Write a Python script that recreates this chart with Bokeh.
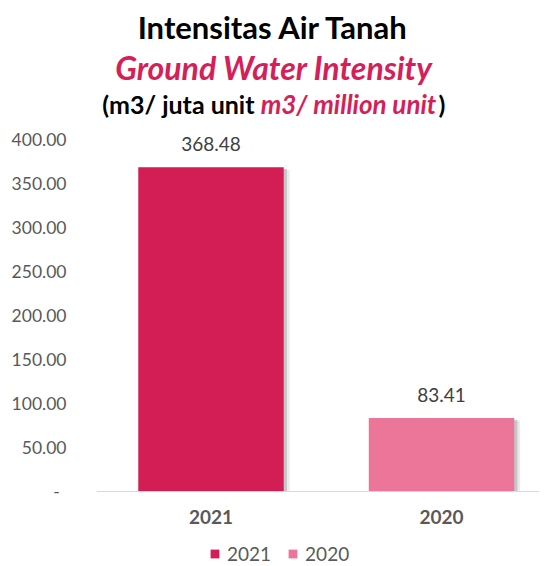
from bokeh.plotting import figure
from bokeh.models import (ColumnDataSource, FixedTicker, Label, LabelSet,
                          Legend, LegendItem, Range1d)
from bokeh.core.properties import value
from bokeh.transform import dodge
from bokeh.embed import file_html
from bokeh.resources import INLINE

# ---- data ----
categories = ["2021", "2020"]
values = [368.48, 83.41]
value_labels = ["368.48", "83.41"]
bar_colors = ["#D21D55", "#EC7699"]
y_ticks = [0, 50, 100, 150, 200, 250, 300, 350, 400]
y_tick_labels = ["-\u00a0\u2009", "50.00", "100.00", "150.00", "200.00",
                 "250.00", "300.00", "350.00", "400.00"]

FONT = "Lato"
GREY = "#595959"

src = ColumnDataSource(dict(
    x=list(range(len(categories))),
    cat=categories,
    value=values,
    label=value_labels,
    color=bar_colors,
))

# The frame spans the full canvas height so that the title and legend sit
# inside it; the x axis is pinned at y = 0 and ticks stop at 400.
p = figure(width=547, height=566, output_backend="svg", toolbar_location=None,
           x_range=Range1d(-0.4967, 1.4252), y_range=Range1d(-85.23, 557.95),
           min_border_left=96, min_border_right=8, min_border_top=0,
           min_border_bottom=0)
p.outline_line_color = None
p.xgrid.visible = False
p.ygrid.visible = False
p.background_fill_color = "white"
p.border_fill_color = "white"

# shadows
p.vbar(x=dodge("x", 0.026, range=p.x_range), top=dodge("value", -3, range=p.y_range),
       width=0.631, source=src, fill_color="#000000", fill_alpha=0.08, line_color=None)
p.vbar(x=dodge("x", 0.014, range=p.x_range), top=dodge("value", -2, range=p.y_range),
       width=0.631, source=src, fill_color="#000000", fill_alpha=0.16, line_color=None)

bars = []
for i, c in enumerate(categories):
    s = ColumnDataSource(dict(x=[src.data["x"][i]], value=[values[i]]))
    r = p.vbar(x="x", top="value", width=0.631, source=s,
               fill_color=bar_colors[i], line_color=None)
    bars.append(r)

labels = LabelSet(x="x", y="value", text="label", source=src, y_offset=16,
                  text_align="center", text_baseline="bottom",
                  text_font=value(FONT), text_font_size=value("19px"),
                  text_color=value("#404040"))
p.add_layout(labels)

# x axis pinned at zero
p.xaxis.fixed_location = 0
p.xaxis.ticker = FixedTicker(ticks=list(range(len(categories))))
p.xaxis.major_label_overrides = {i: c for i, c in enumerate(categories)}
p.xaxis.axis_line_color = "#D9D9D9"
p.xaxis.axis_line_width = 1
p.xaxis.major_tick_line_color = None
p.xaxis.minor_tick_line_color = None
p.xaxis.major_label_text_font = FONT
p.xaxis.major_label_text_font_style = "bold"
p.xaxis.major_label_text_font_size = "19px"
p.xaxis.major_label_text_color = GREY
p.xaxis.major_label_standoff = 13

# y axis
p.yaxis.ticker = FixedTicker(ticks=y_ticks)
p.yaxis.major_label_overrides = {t: l for t, l in zip(y_ticks, y_tick_labels)}
p.yaxis.axis_line_color = None
p.yaxis.major_tick_line_color = None
p.yaxis.minor_tick_line_color = None
p.yaxis.major_label_text_font = FONT
p.yaxis.major_label_text_font_size = "17.5px"
p.yaxis.major_label_text_color = GREY
p.yaxis.major_label_standoff = 24

# legend
legend = Legend(items=[LegendItem(label=c, renderers=[r]) for c, r in zip(categories, bars)],
                orientation="horizontal", location=(113, 1),
                glyph_width=11, glyph_height=11, label_standoff=7, spacing=16,
                padding=0, margin=0, border_line_alpha=0, background_fill_alpha=0,
                label_text_font=FONT, label_text_font_size="19px",
                label_text_color=GREY)
p.add_layout(legend, "center")

# titles (screen units relative to the frame's bottom-left corner)
CRIMSON = "#D41F5A"
p.add_layout(Label(x=177, y=540, x_units="screen", y_units="screen",
                   text="Intensitas Air Tanah", text_align="center",
                   text_baseline="middle", text_font=FONT, text_font_style="bold",
                   text_font_size="31px", text_color="black"))
p.add_layout(Label(x=177.5, y=499, x_units="screen", y_units="screen",
                   text="Ground Water Intensity", text_align="center",
                   text_baseline="middle", text_font=FONT,
                   text_font_style="bold italic", text_font_size="32px",
                   text_color=CRIMSON))
p.add_layout(Label(x=158, y=463, x_units="screen", y_units="screen",
                   text="(m3/ juta unit", text_align="right",
                   text_baseline="middle", text_font=FONT, text_font_style="bold",
                   text_font_size="25px", text_color="black"))
p.add_layout(Label(x=252, y=463, x_units="screen", y_units="screen",
                   text="m3/ million unit", text_align="center",
                   text_baseline="middle", text_font=FONT,
                   text_font_style="bold italic", text_font_size="26px",
                   text_color=CRIMSON))
p.add_layout(Label(x=345.5, y=463, x_units="screen", y_units="screen",
                   text=")", text_align="center",
                   text_baseline="middle", text_font=FONT, text_font_style="bold",
                   text_font_size="25px", text_color="black"))

open("out.html", "w").write(file_html(p, INLINE))
